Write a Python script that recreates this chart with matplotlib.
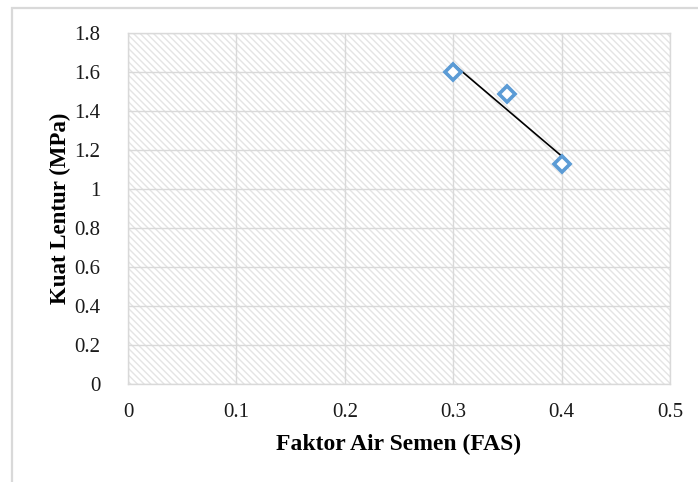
import numpy as np
import matplotlib
matplotlib.use("Agg")
import matplotlib.pyplot as plt
from matplotlib.patches import Rectangle

# flexural strength vs water-cement ratio
fas = [0.30, 0.35, 0.40]
kuat_lentur = [1.60, 1.487, 1.128]

xticks = [0, 0.1, 0.2, 0.3, 0.4, 0.5]
yticks = [0, 0.2, 0.4, 0.6, 0.8, 1.0, 1.2, 1.4, 1.6, 1.8]
xlabels = ["0", "0.1", "0.2", "0.3", "0.4", "0.5"]
ylabels = ["0", "0.2", "0.4", "0.6", "0.8", "1", "1.2", "1.4", "1.6", "1.8"]

plt.rcParams["font.family"] = ["Liberation Serif", "DejaVu Serif"]
plt.rcParams["hatch.linewidth"] = 1.0

grey = "#d9d9d9"

fig = plt.figure(figsize=(6.98, 4.82), dpi=100)
ax = fig.add_axes([128 / 698, 1 - 384 / 482, 542 / 698, 351 / 482])

# outer chart frame, runs off the right and bottom edges
fig.patches.append(Rectangle((12 / 698, -0.1), 1.2, 1 - 8 / 482 + 0.1,
                             transform=fig.transFigure, fill=False,
                             edgecolor=grey, lw=1.6, zorder=0))

# hatched plot area
ax.add_patch(Rectangle((0, 0), 1, 1, transform=ax.transAxes,
                       facecolor="white", edgecolor="#e4e4e4", hatch="\\" * 5,
                       lw=0, zorder=0))

ax.set_xlim(0, 0.5)
ax.set_ylim(0, 1.8)
ax.set_xticks(xticks)
ax.set_xticklabels(xlabels)
ax.set_yticks(yticks)
ax.set_yticklabels(ylabels)
ax.tick_params(length=0, labelsize=15, colors="#1a1a1a")
ax.tick_params(axis="x", pad=14)
ax.tick_params(axis="y", pad=20)
ax.grid(True, color=grey, lw=1.0)
ax.set_axisbelow(True)
for s in ax.spines.values():
    s.set_color(grey)
    s.set_linewidth(1.0)

# linear trendline
coef = np.polyfit(fas, kuat_lentur, 1)
xt = np.array([min(fas), max(fas)])
ax.plot(xt, np.polyval(coef, xt), color="black", lw=1.2, zorder=3)

ax.plot(fas, kuat_lentur, linestyle="none", marker="D", ms=8.5,
        mfc="white", mec="#5b9bd5", mew=2.6, zorder=4)

ax.set_xlabel("Faktor Air Semen (FAS)", fontsize=17, fontweight="bold", labelpad=8)
ax.set_ylabel("Kuat Lentur (MPa)", fontsize=16.5, fontweight="bold", labelpad=2)

fig.savefig("out.png", dpi=100)
